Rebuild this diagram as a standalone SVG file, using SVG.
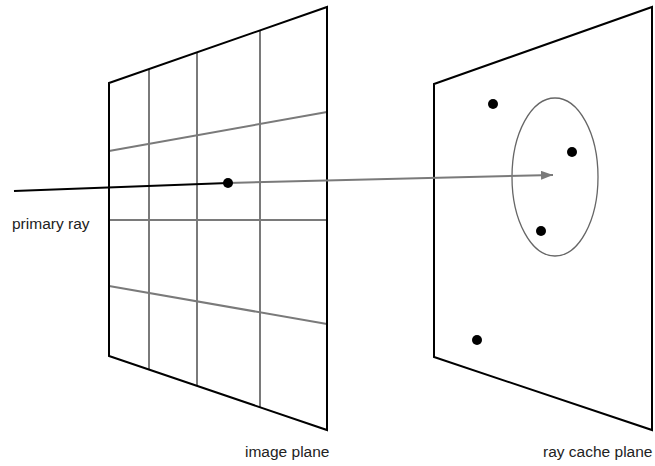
<svg xmlns="http://www.w3.org/2000/svg" width="655" height="466" viewBox="0 0 655 466">
<style>
.frame{fill:none;stroke:#000;stroke-width:2;stroke-linejoin:miter}
.grid{fill:none;stroke:#7a7a7a;stroke-width:2}
.dot{fill:#000}
.lbl{font-family:"Liberation Sans",Arial,sans-serif;font-size:15.5px;fill:#222}
</style>
<defs>
<marker id="arr" viewBox="0 0 12 9" refX="12" refY="4.5" markerWidth="12" markerHeight="9" markerUnits="userSpaceOnUse" orient="auto">
<path d="M0,0 L12,4.5 L0,9 z" fill="#7a7a7a"/>
</marker>
</defs>
<g id="image-plane">
<g class="grid">
<line x1="149" y1="69" x2="149" y2="370"/>
<line x1="197" y1="53" x2="197" y2="386"/>
<line x1="260" y1="31" x2="260" y2="408"/>
<line x1="109" y1="151" x2="327" y2="112"/>
<line x1="109" y1="220" x2="327" y2="220"/>
<line x1="109" y1="286" x2="327" y2="324"/>
</g>
<polygon class="frame" points="109,83 327,7 327,430 109,356"/>
</g>
<g id="ray-cache-plane">
<polygon class="frame" points="434,84 652,7 652,430 434,357"/>
<ellipse cx="555" cy="177" rx="43" ry="79" fill="none" stroke="#666" stroke-width="1.3"/>
<circle class="dot" cx="493" cy="104" r="5"/>
<circle class="dot" cx="572" cy="152" r="5"/>
<circle class="dot" cx="541" cy="231" r="5"/>
<circle class="dot" cx="477" cy="340" r="5"/>
</g>
<g id="connectors">
<line x1="14" y1="191" x2="228" y2="183" stroke="#000" stroke-width="2"/>
<line x1="228" y1="183" x2="553" y2="175" stroke="#7a7a7a" stroke-width="2" marker-end="url(#arr)"/>
<circle class="dot" cx="228" cy="183" r="5"/>
</g>
<text class="lbl" x="12" y="229">primary ray</text>
<text class="lbl" x="245" y="457">image plane</text>
<text class="lbl" x="543" y="457">ray cache plane</text>
</svg>
